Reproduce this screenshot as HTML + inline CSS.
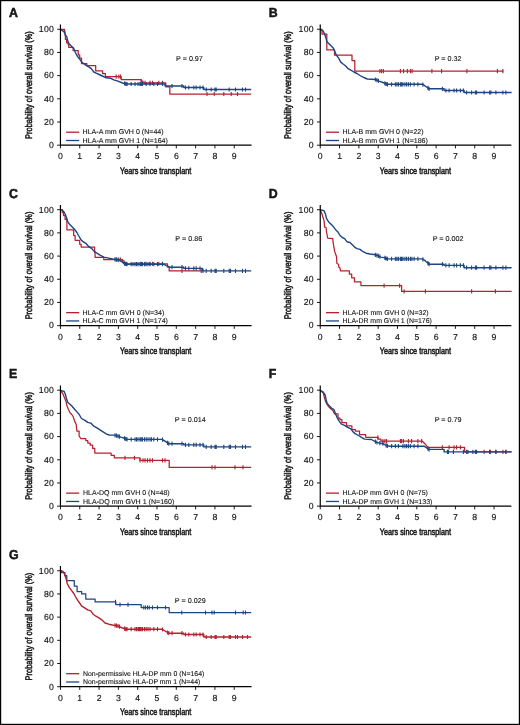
<!DOCTYPE html>
<html lang="en">
<head>
<meta charset="utf-8">
<title>Overall survival by HLA mismatch</title>
<style>
html,body{margin:0;padding:0;background:#fff;}
body{width:520px;height:725px;overflow:hidden;}
svg{display:block;}
text{font-family:"Liberation Sans",sans-serif;fill:#151515;stroke:#151515;stroke-width:0.15px;text-rendering:geometricPrecision;}
text.pl{stroke-width:0.5px;}
text.ti{stroke-width:0.5px;}
text.lg{stroke-width:0.12px;}
</style>
</head>
<body>
<svg width="520" height="725" viewBox="0 0 520 725" role="img" aria-label="Kaplan-Meier overall survival curves by HLA mismatch, panels A to G">
<rect x="0" y="0" width="520" height="725" fill="#fff"/>
<rect x="0.6" y="0.6" width="518.8" height="723.8" fill="none" stroke="#000" stroke-width="1.2"/>
<defs><filter id="soft" x="0" y="0" width="520" height="725" filterUnits="userSpaceOnUse"><feGaussianBlur stdDeviation="0.38"/></filter></defs>
<g filter="url(#soft)">
<g class="panel" id="panel-A">
<path d="M60.9 29.4L64.6 29.4L64.6 31.7L65.1 31.7L65.1 35.5L65.4 35.5L65.4 39.4L66.6 39.4L66.6 42.8L68.2 42.8L68.2 44.8L68.8 44.8L68.8 47.4L73.1 47.4L73.1 50.5L78.2 50.5L78.2 54.8L79.7 54.8L79.7 58.1L81.5 58.1L81.5 63.5L86.9 63.5L86.9 65.5L95.7 65.5L95.7 70.9L102.6 70.9L102.6 73.5L105.4 73.5L105.4 76.6L121.2 76.6L121.2 79.5L141.2 79.5L141.2 81.2L143.0 81.2L143.0 82.8L165.8 82.8L165.8 86.8L169.8 86.8L169.8 94.0L251.2 94.0L251.2 94.0" fill="none" stroke="#b5202f" stroke-width="1.25" stroke-linejoin="round"/>
<path d="M116.2 74.5v4.2M118.8 74.5v4.2M120.5 74.5v4.2M141.2 79.2v4.2M145.0 80.7v4.2M150.0 80.7v4.2M152.5 80.7v4.2M158.8 80.7v4.2M162.5 80.7v4.2M207.0 91.9v4.2M214.2 91.9v4.2M223.8 91.9v4.2M231.2 91.9v4.2M237.5 91.9v4.2" fill="none" stroke="#b5202f" stroke-width="1.1"/>
<path d="M60.5 29.4L63.9 31.7L65.4 34.8L66.9 37.1L67.7 40.9L69.2 44.0L71.5 46.3L73.8 48.6L75.4 52.5L76.9 55.5L79.2 58.6L81.5 61.7L83.8 63.7L86.9 65.8L89.2 67.1L91.5 68.9L93.8 72.0L96.2 73.2L99.2 74.5L102.3 76.0L106.2 77.8L110.8 78.3L113.8 79.8L118.0 81.2L122.5 83.0L126.2 84.0L126.2 84.0L126.2 84.0L165.0 84.0L165.0 86.0L183.8 86.0L183.8 87.5L203.8 87.5L203.8 89.5L251.2 89.5L251.2 89.5" fill="none" stroke="#1d4583" stroke-width="1.4" stroke-linejoin="round"/>
<path d="M124.5 81.4v4.2M125.8 81.8v4.2M127.0 81.9v4.2M131.2 81.9v4.2M135.0 81.9v4.2M138.0 81.9v4.2M140.0 81.9v4.2M141.2 81.9v4.2M142.5 81.9v4.2M146.2 81.9v4.2M150.0 81.9v4.2M153.8 81.9v4.2M157.5 81.9v4.2M162.5 81.9v4.2M172.0 83.9v4.2M182.0 83.9v4.2M185.5 85.4v4.2M188.8 85.4v4.2M193.8 85.4v4.2M196.2 85.4v4.2M200.0 85.4v4.2M203.0 85.4v4.2M206.2 87.4v4.2M211.2 87.4v4.2M215.0 87.4v4.2M216.2 87.4v4.2M229.2 87.4v4.2M235.5 87.4v4.2M242.5 87.4v4.2M245.5 87.4v4.2" fill="none" stroke="#1d4583" stroke-width="1.1"/>
<path d="M60.45 24.45V145.20H251.55" fill="none" stroke="#000" stroke-width="1.2" stroke-linecap="butt" stroke-linejoin="miter"/>
<path d="M57.15 145.20H60.45M57.15 122.01H60.45M57.15 98.82H60.45M57.15 75.63H60.45M57.15 52.44H60.45M57.15 29.25H60.45M60.45 145.20V148.40M79.76 145.20V148.40M99.07 145.20V148.40M118.38 145.20V148.40M137.69 145.20V148.40M157.00 145.20V148.40M176.31 145.20V148.40M195.62 145.20V148.40M214.93 145.20V148.40M234.24 145.20V148.40" fill="none" stroke="#000" stroke-width="0.9" stroke-linecap="butt"/>
<text transform="translate(54.15 148.00) scale(1.0 1)" font-size="8.7" letter-spacing="0.3" text-anchor="end" font-weight="normal">0</text>
<text transform="translate(54.15 124.81) scale(1.0 1)" font-size="8.7" letter-spacing="0.3" text-anchor="end" font-weight="normal">20</text>
<text transform="translate(54.15 101.62) scale(1.0 1)" font-size="8.7" letter-spacing="0.3" text-anchor="end" font-weight="normal">40</text>
<text transform="translate(54.15 78.43) scale(1.0 1)" font-size="8.7" letter-spacing="0.3" text-anchor="end" font-weight="normal">60</text>
<text transform="translate(54.15 55.24) scale(1.0 1)" font-size="8.7" letter-spacing="0.3" text-anchor="end" font-weight="normal">80</text>
<text transform="translate(54.15 32.05) scale(1.0 1)" font-size="8.7" letter-spacing="0.3" text-anchor="end" font-weight="normal">100</text>
<text transform="translate(60.45 159.35) scale(1.0 1)" font-size="8.7" text-anchor="middle" font-weight="normal">0</text>
<text transform="translate(79.76 159.35) scale(1.0 1)" font-size="8.7" text-anchor="middle" font-weight="normal">1</text>
<text transform="translate(99.07 159.35) scale(1.0 1)" font-size="8.7" text-anchor="middle" font-weight="normal">2</text>
<text transform="translate(118.38 159.35) scale(1.0 1)" font-size="8.7" text-anchor="middle" font-weight="normal">3</text>
<text transform="translate(137.69 159.35) scale(1.0 1)" font-size="8.7" text-anchor="middle" font-weight="normal">4</text>
<text transform="translate(157.00 159.35) scale(1.0 1)" font-size="8.7" text-anchor="middle" font-weight="normal">5</text>
<text transform="translate(176.31 159.35) scale(1.0 1)" font-size="8.7" text-anchor="middle" font-weight="normal">6</text>
<text transform="translate(195.62 159.35) scale(1.0 1)" font-size="8.7" text-anchor="middle" font-weight="normal">7</text>
<text transform="translate(214.93 159.35) scale(1.0 1)" font-size="8.7" text-anchor="middle" font-weight="normal">8</text>
<text transform="translate(234.24 159.35) scale(1.0 1)" font-size="8.7" text-anchor="middle" font-weight="normal">9</text>
<text transform="translate(155.65 173.90) scale(0.765 1)" font-size="9.5" class="ti" text-anchor="middle" font-weight="normal">Years since transplant</text>
<text transform="translate(31.65 85.05) rotate(-90) scale(0.774 1)" font-size="9.6" class="ti" text-anchor="middle" font-weight="normal">Probability of overall survival (%)</text>
<text class="pl" transform="translate(9.05 17.45) scale(0.95 1)" font-size="13" text-anchor="start" font-weight="bold">A</text>
<path d="M66.15 132.20h13.1" stroke="#b5202f" stroke-width="1.3"/>
<path d="M66.15 140.50h13.1" stroke="#1d4583" stroke-width="1.3"/>
<text class="lg" x="82.60" y="134.35" font-size="7" textLength="81.0" lengthAdjust="spacingAndGlyphs">HLA-A mm GVH 0 (N=44)</text>
<text class="lg" x="82.60" y="142.60" font-size="7" textLength="85.3" lengthAdjust="spacingAndGlyphs">HLA-A mm GVH 1 (N=164)</text>
<text transform="translate(176.05 60.75) scale(1.025 1)" font-size="7" class="lg" text-anchor="start" font-weight="normal">P = 0.97</text>
</g>
<g class="panel" id="panel-B">
<path d="M320.1 29.4L322.0 29.4L322.0 34.0L326.8 34.0L326.8 49.9L334.5 49.9L334.5 55.2L352.0 55.2L352.0 60.6L354.8 60.6L354.8 71.2L503.4 71.2L503.4 71.2" fill="none" stroke="#b5202f" stroke-width="1.25" stroke-linejoin="round"/>
<path d="M379.9 69.1v4.2M381.6 69.1v4.2M383.4 69.1v4.2M400.4 69.1v4.2M403.6 69.1v4.2M407.4 69.1v4.2M410.4 69.1v4.2M412.1 69.1v4.2M431.9 69.1v4.2M441.6 69.1v4.2M466.9 69.1v4.2M497.4 69.1v4.2M502.9 69.1v4.2" fill="none" stroke="#b5202f" stroke-width="1.1"/>
<path d="M320.1 29.4L323.1 30.9L324.6 34.0L326.1 38.6L326.9 41.7L329.2 44.0L331.5 46.3L333.4 48.3L334.6 50.9L336.1 54.8L338.5 57.9L340.8 62.1L343.1 64.0L345.4 65.8L347.7 68.3L350.8 70.2L353.9 72.0L356.9 73.5L360.0 75.5L363.1 77.1L366.1 78.5L367.4 79.0L375.4 79.5L379.1 81.2L382.9 82.5L386.6 84.2L386.6 84.2L386.6 84.2L422.4 84.2L422.4 84.2L425.4 86.2L429.1 88.8L429.1 88.8L429.1 88.8L444.1 88.8L444.1 90.5L464.1 90.5L464.1 92.5L511.6 92.5L511.6 92.5" fill="none" stroke="#1d4583" stroke-width="1.4" stroke-linejoin="round"/>
<path d="M375.4 77.4v4.2M376.9 78.1v4.2M378.4 78.8v4.2M384.9 81.3v4.2M386.1 81.9v4.2M387.4 82.2v4.2M391.6 82.2v4.2M395.4 82.2v4.2M396.9 82.2v4.2M398.4 82.2v4.2M400.4 82.2v4.2M401.6 82.2v4.2M402.9 82.2v4.2M404.9 82.2v4.2M406.6 82.2v4.2M408.4 82.2v4.2M410.4 82.2v4.2M414.1 82.2v4.2M417.9 82.2v4.2M422.9 82.5v4.2M427.9 85.8v4.2M429.1 86.7v4.2M442.4 86.7v4.2M445.9 88.4v4.2M449.1 88.4v4.2M454.1 88.4v4.2M456.6 88.4v4.2M460.4 88.4v4.2M463.4 88.4v4.2M466.6 90.4v4.2M471.6 90.4v4.2M475.4 90.4v4.2M476.6 90.4v4.2M484.1 90.4v4.2M489.6 90.4v4.2M490.9 90.4v4.2M495.9 90.4v4.2M502.9 90.4v4.2M505.9 90.4v4.2" fill="none" stroke="#1d4583" stroke-width="1.1"/>
<path d="M320.25 24.45V145.20H511.35" fill="none" stroke="#000" stroke-width="1.2" stroke-linecap="butt" stroke-linejoin="miter"/>
<path d="M316.95 145.20H320.25M316.95 122.01H320.25M316.95 98.82H320.25M316.95 75.63H320.25M316.95 52.44H320.25M316.95 29.25H320.25M320.25 145.20V148.40M339.56 145.20V148.40M358.87 145.20V148.40M378.18 145.20V148.40M397.49 145.20V148.40M416.80 145.20V148.40M436.11 145.20V148.40M455.42 145.20V148.40M474.73 145.20V148.40M494.04 145.20V148.40" fill="none" stroke="#000" stroke-width="0.9" stroke-linecap="butt"/>
<text transform="translate(313.95 148.00) scale(1.0 1)" font-size="8.7" letter-spacing="0.3" text-anchor="end" font-weight="normal">0</text>
<text transform="translate(313.95 124.81) scale(1.0 1)" font-size="8.7" letter-spacing="0.3" text-anchor="end" font-weight="normal">20</text>
<text transform="translate(313.95 101.62) scale(1.0 1)" font-size="8.7" letter-spacing="0.3" text-anchor="end" font-weight="normal">40</text>
<text transform="translate(313.95 78.43) scale(1.0 1)" font-size="8.7" letter-spacing="0.3" text-anchor="end" font-weight="normal">60</text>
<text transform="translate(313.95 55.24) scale(1.0 1)" font-size="8.7" letter-spacing="0.3" text-anchor="end" font-weight="normal">80</text>
<text transform="translate(313.95 32.05) scale(1.0 1)" font-size="8.7" letter-spacing="0.3" text-anchor="end" font-weight="normal">100</text>
<text transform="translate(320.25 159.35) scale(1.0 1)" font-size="8.7" text-anchor="middle" font-weight="normal">0</text>
<text transform="translate(339.56 159.35) scale(1.0 1)" font-size="8.7" text-anchor="middle" font-weight="normal">1</text>
<text transform="translate(358.87 159.35) scale(1.0 1)" font-size="8.7" text-anchor="middle" font-weight="normal">2</text>
<text transform="translate(378.18 159.35) scale(1.0 1)" font-size="8.7" text-anchor="middle" font-weight="normal">3</text>
<text transform="translate(397.49 159.35) scale(1.0 1)" font-size="8.7" text-anchor="middle" font-weight="normal">4</text>
<text transform="translate(416.80 159.35) scale(1.0 1)" font-size="8.7" text-anchor="middle" font-weight="normal">5</text>
<text transform="translate(436.11 159.35) scale(1.0 1)" font-size="8.7" text-anchor="middle" font-weight="normal">6</text>
<text transform="translate(455.42 159.35) scale(1.0 1)" font-size="8.7" text-anchor="middle" font-weight="normal">7</text>
<text transform="translate(474.73 159.35) scale(1.0 1)" font-size="8.7" text-anchor="middle" font-weight="normal">8</text>
<text transform="translate(494.04 159.35) scale(1.0 1)" font-size="8.7" text-anchor="middle" font-weight="normal">9</text>
<text transform="translate(415.45 173.90) scale(0.765 1)" font-size="9.5" class="ti" text-anchor="middle" font-weight="normal">Years since transplant</text>
<text transform="translate(291.45 85.05) rotate(-90) scale(0.774 1)" font-size="9.6" class="ti" text-anchor="middle" font-weight="normal">Probability of overall survival (%)</text>
<text class="pl" transform="translate(268.85 17.45) scale(0.95 1)" font-size="13" text-anchor="start" font-weight="bold">B</text>
<path d="M325.95 132.20h13.1" stroke="#b5202f" stroke-width="1.3"/>
<path d="M325.95 140.50h13.1" stroke="#1d4583" stroke-width="1.3"/>
<text class="lg" x="342.60" y="134.35" font-size="7" textLength="81.0" lengthAdjust="spacingAndGlyphs">HLA-B mm GVH 0 (N=22)</text>
<text class="lg" x="342.60" y="142.60" font-size="7" textLength="85.3" lengthAdjust="spacingAndGlyphs">HLA-B mm GVH 1 (N=186)</text>
<text transform="translate(434.65 60.75) scale(1.025 1)" font-size="7" class="lg" text-anchor="start" font-weight="normal">P = 0.32</text>
</g>
<g class="panel" id="panel-C">
<path d="M60.5 209.7L62.3 209.7L62.3 212.5L63.5 212.5L63.5 215.5L65.1 215.5L65.1 219.4L66.9 219.4L66.9 229.8L73.7 229.8L73.7 235.5L75.1 235.5L75.1 240.3L79.7 240.3L79.7 244.3L81.2 244.3L81.2 247.1L94.6 247.1L94.6 252.5L95.1 252.5L95.1 257.4L103.8 257.4L103.8 259.7L122.5 259.7L122.5 262.2L125.0 262.2L125.0 263.9L167.5 263.9L167.5 267.2L169.2 267.2L169.2 270.9L202.5 270.9L202.5 270.9" fill="none" stroke="#b5202f" stroke-width="1.25" stroke-linejoin="round"/>
<path d="M116.2 257.6v4.2M118.8 257.6v4.2M120.5 257.6v4.2M123.8 260.1v4.2M126.2 261.8v4.2M141.2 261.8v4.2M145.0 261.8v4.2M150.0 261.8v4.2M152.5 261.8v4.2M158.8 261.8v4.2M162.5 261.8v4.2M182.0 268.8v4.2M201.2 268.8v4.2" fill="none" stroke="#b5202f" stroke-width="1.1"/>
<path d="M60.5 209.7L63.5 211.2L65.1 214.0L66.6 217.8L67.7 221.7L70.0 224.8L72.3 227.1L74.6 229.4L76.9 232.5L78.5 235.5L80.8 239.4L83.1 241.7L86.2 243.7L88.5 246.3L91.5 248.3L93.8 250.9L96.9 253.2L100.0 255.1L103.8 257.1L108.5 258.1L112.5 258.9L117.5 259.7L121.2 260.9L123.8 263.4L126.2 264.2L126.2 264.2L126.2 264.2L163.8 264.2L163.8 264.2L166.2 265.7L170.0 267.2L170.0 267.2L170.0 267.2L183.8 267.2L183.8 268.4L202.5 268.4L202.5 270.9L251.2 270.9L251.2 270.9" fill="none" stroke="#1d4583" stroke-width="1.4" stroke-linejoin="round"/>
<path d="M115.0 257.2v4.2M116.5 257.4v4.2M118.0 257.8v4.2M124.5 261.6v4.2M125.8 261.9v4.2M127.0 262.1v4.2M131.2 262.1v4.2M133.0 262.1v4.2M135.0 262.1v4.2M136.5 262.1v4.2M138.0 262.1v4.2M140.0 262.1v4.2M141.2 262.1v4.2M142.5 262.1v4.2M144.5 262.1v4.2M146.2 262.1v4.2M148.0 262.1v4.2M150.0 262.1v4.2M153.8 262.1v4.2M157.5 262.1v4.2M162.5 262.1v4.2M172.0 265.1v4.2M182.0 265.1v4.2M185.5 266.3v4.2M188.8 266.3v4.2M193.8 266.3v4.2M196.2 266.3v4.2M200.0 266.3v4.2M203.0 268.8v4.2M206.2 268.8v4.2M211.2 268.8v4.2M215.0 268.8v4.2M216.2 268.8v4.2M223.8 268.8v4.2M229.2 268.8v4.2M230.5 268.8v4.2M235.5 268.8v4.2M242.5 268.8v4.2M245.5 268.8v4.2" fill="none" stroke="#1d4583" stroke-width="1.1"/>
<path d="M60.45 204.90V325.65H251.55" fill="none" stroke="#000" stroke-width="1.2" stroke-linecap="butt" stroke-linejoin="miter"/>
<path d="M57.15 325.65H60.45M57.15 302.46H60.45M57.15 279.27H60.45M57.15 256.08H60.45M57.15 232.89H60.45M57.15 209.70H60.45M60.45 325.65V328.85M79.76 325.65V328.85M99.07 325.65V328.85M118.38 325.65V328.85M137.69 325.65V328.85M157.00 325.65V328.85M176.31 325.65V328.85M195.62 325.65V328.85M214.93 325.65V328.85M234.24 325.65V328.85" fill="none" stroke="#000" stroke-width="0.9" stroke-linecap="butt"/>
<text transform="translate(54.15 328.45) scale(1.0 1)" font-size="8.7" letter-spacing="0.3" text-anchor="end" font-weight="normal">0</text>
<text transform="translate(54.15 305.26) scale(1.0 1)" font-size="8.7" letter-spacing="0.3" text-anchor="end" font-weight="normal">20</text>
<text transform="translate(54.15 282.07) scale(1.0 1)" font-size="8.7" letter-spacing="0.3" text-anchor="end" font-weight="normal">40</text>
<text transform="translate(54.15 258.88) scale(1.0 1)" font-size="8.7" letter-spacing="0.3" text-anchor="end" font-weight="normal">60</text>
<text transform="translate(54.15 235.69) scale(1.0 1)" font-size="8.7" letter-spacing="0.3" text-anchor="end" font-weight="normal">80</text>
<text transform="translate(54.15 212.50) scale(1.0 1)" font-size="8.7" letter-spacing="0.3" text-anchor="end" font-weight="normal">100</text>
<text transform="translate(60.45 339.80) scale(1.0 1)" font-size="8.7" text-anchor="middle" font-weight="normal">0</text>
<text transform="translate(79.76 339.80) scale(1.0 1)" font-size="8.7" text-anchor="middle" font-weight="normal">1</text>
<text transform="translate(99.07 339.80) scale(1.0 1)" font-size="8.7" text-anchor="middle" font-weight="normal">2</text>
<text transform="translate(118.38 339.80) scale(1.0 1)" font-size="8.7" text-anchor="middle" font-weight="normal">3</text>
<text transform="translate(137.69 339.80) scale(1.0 1)" font-size="8.7" text-anchor="middle" font-weight="normal">4</text>
<text transform="translate(157.00 339.80) scale(1.0 1)" font-size="8.7" text-anchor="middle" font-weight="normal">5</text>
<text transform="translate(176.31 339.80) scale(1.0 1)" font-size="8.7" text-anchor="middle" font-weight="normal">6</text>
<text transform="translate(195.62 339.80) scale(1.0 1)" font-size="8.7" text-anchor="middle" font-weight="normal">7</text>
<text transform="translate(214.93 339.80) scale(1.0 1)" font-size="8.7" text-anchor="middle" font-weight="normal">8</text>
<text transform="translate(234.24 339.80) scale(1.0 1)" font-size="8.7" text-anchor="middle" font-weight="normal">9</text>
<text transform="translate(155.65 354.35) scale(0.765 1)" font-size="9.5" class="ti" text-anchor="middle" font-weight="normal">Years since transplant</text>
<text transform="translate(31.65 265.50) rotate(-90) scale(0.774 1)" font-size="9.6" class="ti" text-anchor="middle" font-weight="normal">Probability of overall survival (%)</text>
<text class="pl" transform="translate(9.05 197.90) scale(0.95 1)" font-size="13" text-anchor="start" font-weight="bold">C</text>
<path d="M66.15 312.65h13.1" stroke="#b5202f" stroke-width="1.3"/>
<path d="M66.15 320.95h13.1" stroke="#1d4583" stroke-width="1.3"/>
<text class="lg" x="82.60" y="314.80" font-size="7" textLength="81.7" lengthAdjust="spacingAndGlyphs">HLA-C mm GVH 0 (N=34)</text>
<text class="lg" x="82.60" y="323.05" font-size="7" textLength="85.3" lengthAdjust="spacingAndGlyphs">HLA-C mm GVH 1 (N=174)</text>
<text transform="translate(175.35 241.40) scale(1.025 1)" font-size="7" class="lg" text-anchor="start" font-weight="normal">P = 0.86</text>
</g>
<g class="panel" id="panel-D">
<path d="M320.1 209.7L321.5 212.5L323.1 217.8L324.1 220.9L324.6 227.1L326.1 227.5L326.6 232.5L327.7 238.2L332.8 238.6L333.1 242.7L334.6 251.2L336.5 256.5L336.9 263.5L338.5 264.2L338.9 267.3L340.0 268.1L340.5 270.9L349.4 270.9L349.4 274.2L351.7 274.2L351.7 277.8L354.5 277.8L354.5 281.9L360.9 281.9L360.9 285.6L401.6 285.6L401.6 291.4L511.6 291.4L511.6 291.4" fill="none" stroke="#b5202f" stroke-width="1.25" stroke-linejoin="round"/>
<path d="M384.1 283.5v4.2M399.6 283.5v4.2M404.1 289.3v4.2M425.4 289.3v4.2M471.6 289.3v4.2M495.4 289.3v4.2" fill="none" stroke="#b5202f" stroke-width="1.1"/>
<path d="M320.1 209.7L323.9 210.6L325.4 214.0L326.6 218.6L328.5 221.7L330.8 224.0L333.1 226.3L335.4 229.4L337.7 231.7L340.0 235.5L342.3 237.5L344.6 238.6L346.9 241.7L350.0 242.5L352.3 244.8L354.6 247.1L356.9 248.6L360.0 249.4L363.1 251.7L366.1 253.2L370.0 254.0L373.9 254.5L377.7 255.5L380.8 257.1L385.4 257.9L386.6 258.9L386.6 258.9L386.6 258.9L422.4 258.9L422.4 258.9L425.4 260.9L429.1 264.2L429.1 264.2L429.1 264.2L444.1 264.2L444.1 265.4L464.1 265.4L464.1 267.7L511.6 267.7L511.6 267.7" fill="none" stroke="#1d4583" stroke-width="1.4" stroke-linejoin="round"/>
<path d="M375.4 252.8v4.2M376.9 253.2v4.2M378.4 253.8v4.2M379.9 254.5v4.2M384.9 255.7v4.2M386.1 256.4v4.2M387.4 256.8v4.2M391.6 256.8v4.2M395.4 256.8v4.2M396.9 256.8v4.2M398.4 256.8v4.2M400.4 256.8v4.2M401.6 256.8v4.2M402.9 256.8v4.2M404.9 256.8v4.2M406.6 256.8v4.2M408.4 256.8v4.2M410.4 256.8v4.2M411.9 256.8v4.2M414.1 256.8v4.2M417.9 256.8v4.2M422.9 257.2v4.2M427.9 261.0v4.2M429.1 262.1v4.2M442.4 262.1v4.2M445.9 263.3v4.2M449.1 263.3v4.2M454.1 263.3v4.2M456.6 263.3v4.2M460.4 263.3v4.2M463.4 263.3v4.2M466.6 265.6v4.2M471.6 265.6v4.2M475.4 265.6v4.2M476.6 265.6v4.2M484.1 265.6v4.2M489.6 265.6v4.2M490.9 265.6v4.2M495.9 265.6v4.2M502.9 265.6v4.2M505.9 265.6v4.2" fill="none" stroke="#1d4583" stroke-width="1.1"/>
<path d="M320.25 204.90V325.65H511.35" fill="none" stroke="#000" stroke-width="1.2" stroke-linecap="butt" stroke-linejoin="miter"/>
<path d="M316.95 325.65H320.25M316.95 302.46H320.25M316.95 279.27H320.25M316.95 256.08H320.25M316.95 232.89H320.25M316.95 209.70H320.25M320.25 325.65V328.85M339.56 325.65V328.85M358.87 325.65V328.85M378.18 325.65V328.85M397.49 325.65V328.85M416.80 325.65V328.85M436.11 325.65V328.85M455.42 325.65V328.85M474.73 325.65V328.85M494.04 325.65V328.85" fill="none" stroke="#000" stroke-width="0.9" stroke-linecap="butt"/>
<text transform="translate(313.95 328.45) scale(1.0 1)" font-size="8.7" letter-spacing="0.3" text-anchor="end" font-weight="normal">0</text>
<text transform="translate(313.95 305.26) scale(1.0 1)" font-size="8.7" letter-spacing="0.3" text-anchor="end" font-weight="normal">20</text>
<text transform="translate(313.95 282.07) scale(1.0 1)" font-size="8.7" letter-spacing="0.3" text-anchor="end" font-weight="normal">40</text>
<text transform="translate(313.95 258.88) scale(1.0 1)" font-size="8.7" letter-spacing="0.3" text-anchor="end" font-weight="normal">60</text>
<text transform="translate(313.95 235.69) scale(1.0 1)" font-size="8.7" letter-spacing="0.3" text-anchor="end" font-weight="normal">80</text>
<text transform="translate(313.95 212.50) scale(1.0 1)" font-size="8.7" letter-spacing="0.3" text-anchor="end" font-weight="normal">100</text>
<text transform="translate(320.25 339.80) scale(1.0 1)" font-size="8.7" text-anchor="middle" font-weight="normal">0</text>
<text transform="translate(339.56 339.80) scale(1.0 1)" font-size="8.7" text-anchor="middle" font-weight="normal">1</text>
<text transform="translate(358.87 339.80) scale(1.0 1)" font-size="8.7" text-anchor="middle" font-weight="normal">2</text>
<text transform="translate(378.18 339.80) scale(1.0 1)" font-size="8.7" text-anchor="middle" font-weight="normal">3</text>
<text transform="translate(397.49 339.80) scale(1.0 1)" font-size="8.7" text-anchor="middle" font-weight="normal">4</text>
<text transform="translate(416.80 339.80) scale(1.0 1)" font-size="8.7" text-anchor="middle" font-weight="normal">5</text>
<text transform="translate(436.11 339.80) scale(1.0 1)" font-size="8.7" text-anchor="middle" font-weight="normal">6</text>
<text transform="translate(455.42 339.80) scale(1.0 1)" font-size="8.7" text-anchor="middle" font-weight="normal">7</text>
<text transform="translate(474.73 339.80) scale(1.0 1)" font-size="8.7" text-anchor="middle" font-weight="normal">8</text>
<text transform="translate(494.04 339.80) scale(1.0 1)" font-size="8.7" text-anchor="middle" font-weight="normal">9</text>
<text transform="translate(415.45 354.35) scale(0.765 1)" font-size="9.5" class="ti" text-anchor="middle" font-weight="normal">Years since transplant</text>
<text transform="translate(291.45 265.50) rotate(-90) scale(0.774 1)" font-size="9.6" class="ti" text-anchor="middle" font-weight="normal">Probability of overall survival (%)</text>
<text class="pl" transform="translate(268.85 197.90) scale(0.95 1)" font-size="13" text-anchor="start" font-weight="bold">D</text>
<path d="M325.95 312.65h13.1" stroke="#b5202f" stroke-width="1.3"/>
<path d="M325.95 320.95h13.1" stroke="#1d4583" stroke-width="1.3"/>
<text class="lg" x="342.60" y="314.80" font-size="7" textLength="86.0" lengthAdjust="spacingAndGlyphs">HLA-DR mm GVH 0 (N=32)</text>
<text class="lg" x="342.60" y="323.05" font-size="7" textLength="89.3" lengthAdjust="spacingAndGlyphs">HLA-DR mm GVH 1 (N=176)</text>
<text transform="translate(432.65 241.40) scale(1.025 1)" font-size="7" class="lg" text-anchor="start" font-weight="normal">P = 0.002</text>
</g>
<g class="panel" id="panel-E">
<path d="M60.5 390.4L63.1 394.2L64.6 398.1L66.2 401.9L66.9 405.8L68.5 409.6L70.0 412.7L71.5 414.2L73.1 416.5L74.6 421.1L76.2 424.2L76.9 431.1L76.9 431.1L76.9 431.1L79.1 431.1L79.1 435.8L80.8 438.5L85.8 438.5L85.8 440.7L87.8 440.7L87.8 443.1L90.2 443.1L90.2 445.0L92.6 445.0L92.6 448.4L94.8 448.4L94.8 453.0L111.1 453.0L111.1 455.3L114.3 455.3L114.3 457.8L140.0 457.8L140.0 460.4L169.2 460.4L169.2 467.4L251.2 467.4L251.2 467.4" fill="none" stroke="#b5202f" stroke-width="1.25" stroke-linejoin="round"/>
<path d="M125.0 455.7v4.2M134.5 455.7v4.2M140.0 458.3v4.2M143.0 458.3v4.2M145.0 458.3v4.2M147.5 458.3v4.2M150.0 458.3v4.2M152.5 458.3v4.2M162.5 458.3v4.2M165.0 458.3v4.2M212.0 465.3v4.2M215.0 465.3v4.2M235.0 465.3v4.2M243.0 465.3v4.2" fill="none" stroke="#b5202f" stroke-width="1.1"/>
<path d="M60.5 390.4L64.2 391.5L65.4 394.5L66.6 399.1L67.7 402.2L70.0 404.2L72.3 406.5L74.6 409.3L76.9 411.9L79.2 414.5L81.5 418.5L84.6 420.1L87.7 422.4L90.8 423.1L93.8 426.2L96.9 427.8L100.0 429.9L103.1 431.9L106.2 433.9L109.2 435.0L114.6 435.1L117.7 436.1L121.5 437.3L125.4 438.5L126.2 439.4L126.2 439.4L126.2 439.4L162.0 439.4L162.0 439.4L165.0 441.2L168.8 443.7L168.8 443.7L168.8 443.7L183.8 443.7L183.8 444.9L203.8 444.9L203.8 446.9L251.2 446.9L251.2 446.9" fill="none" stroke="#1d4583" stroke-width="1.4" stroke-linejoin="round"/>
<path d="M115.0 433.2v4.2M116.5 433.6v4.2M118.0 434.1v4.2M119.5 434.6v4.2M124.5 436.2v4.2M125.8 436.8v4.2M127.0 437.3v4.2M131.2 437.3v4.2M135.0 437.3v4.2M136.5 437.3v4.2M138.0 437.3v4.2M140.0 437.3v4.2M141.2 437.3v4.2M142.5 437.3v4.2M144.5 437.3v4.2M146.2 437.3v4.2M148.0 437.3v4.2M150.0 437.3v4.2M151.5 437.3v4.2M153.8 437.3v4.2M157.5 437.3v4.2M162.5 437.6v4.2M167.5 440.8v4.2M168.8 441.6v4.2M172.0 441.6v4.2M182.0 441.6v4.2M185.5 442.8v4.2M188.8 442.8v4.2M193.8 442.8v4.2M196.2 442.8v4.2M200.0 442.8v4.2M203.0 442.8v4.2M206.2 444.8v4.2M211.2 444.8v4.2M215.0 444.8v4.2M216.2 444.8v4.2M223.8 444.8v4.2M229.2 444.8v4.2M230.5 444.8v4.2M235.5 444.8v4.2M242.5 444.8v4.2M245.5 444.8v4.2" fill="none" stroke="#1d4583" stroke-width="1.1"/>
<path d="M60.45 385.40V506.15H251.55" fill="none" stroke="#000" stroke-width="1.2" stroke-linecap="butt" stroke-linejoin="miter"/>
<path d="M57.15 506.15H60.45M57.15 482.96H60.45M57.15 459.77H60.45M57.15 436.58H60.45M57.15 413.39H60.45M57.15 390.20H60.45M60.45 506.15V509.35M79.76 506.15V509.35M99.07 506.15V509.35M118.38 506.15V509.35M137.69 506.15V509.35M157.00 506.15V509.35M176.31 506.15V509.35M195.62 506.15V509.35M214.93 506.15V509.35M234.24 506.15V509.35" fill="none" stroke="#000" stroke-width="0.9" stroke-linecap="butt"/>
<text transform="translate(54.15 508.95) scale(1.0 1)" font-size="8.7" letter-spacing="0.3" text-anchor="end" font-weight="normal">0</text>
<text transform="translate(54.15 485.76) scale(1.0 1)" font-size="8.7" letter-spacing="0.3" text-anchor="end" font-weight="normal">20</text>
<text transform="translate(54.15 462.57) scale(1.0 1)" font-size="8.7" letter-spacing="0.3" text-anchor="end" font-weight="normal">40</text>
<text transform="translate(54.15 439.38) scale(1.0 1)" font-size="8.7" letter-spacing="0.3" text-anchor="end" font-weight="normal">60</text>
<text transform="translate(54.15 416.19) scale(1.0 1)" font-size="8.7" letter-spacing="0.3" text-anchor="end" font-weight="normal">80</text>
<text transform="translate(54.15 393.00) scale(1.0 1)" font-size="8.7" letter-spacing="0.3" text-anchor="end" font-weight="normal">100</text>
<text transform="translate(60.45 520.30) scale(1.0 1)" font-size="8.7" text-anchor="middle" font-weight="normal">0</text>
<text transform="translate(79.76 520.30) scale(1.0 1)" font-size="8.7" text-anchor="middle" font-weight="normal">1</text>
<text transform="translate(99.07 520.30) scale(1.0 1)" font-size="8.7" text-anchor="middle" font-weight="normal">2</text>
<text transform="translate(118.38 520.30) scale(1.0 1)" font-size="8.7" text-anchor="middle" font-weight="normal">3</text>
<text transform="translate(137.69 520.30) scale(1.0 1)" font-size="8.7" text-anchor="middle" font-weight="normal">4</text>
<text transform="translate(157.00 520.30) scale(1.0 1)" font-size="8.7" text-anchor="middle" font-weight="normal">5</text>
<text transform="translate(176.31 520.30) scale(1.0 1)" font-size="8.7" text-anchor="middle" font-weight="normal">6</text>
<text transform="translate(195.62 520.30) scale(1.0 1)" font-size="8.7" text-anchor="middle" font-weight="normal">7</text>
<text transform="translate(214.93 520.30) scale(1.0 1)" font-size="8.7" text-anchor="middle" font-weight="normal">8</text>
<text transform="translate(234.24 520.30) scale(1.0 1)" font-size="8.7" text-anchor="middle" font-weight="normal">9</text>
<text transform="translate(155.65 534.85) scale(0.765 1)" font-size="9.5" class="ti" text-anchor="middle" font-weight="normal">Years since transplant</text>
<text transform="translate(31.65 446.00) rotate(-90) scale(0.774 1)" font-size="9.6" class="ti" text-anchor="middle" font-weight="normal">Probability of overall survival (%)</text>
<text class="pl" transform="translate(9.05 378.40) scale(0.95 1)" font-size="13" text-anchor="start" font-weight="bold">E</text>
<path d="M66.15 493.15h13.1" stroke="#b5202f" stroke-width="1.3"/>
<path d="M66.15 501.45h13.1" stroke="#1d4583" stroke-width="1.3"/>
<text class="lg" x="83.00" y="495.30" font-size="7" textLength="86.7" lengthAdjust="spacingAndGlyphs">HLA-DQ mm GVH 0 (N=48)</text>
<text class="lg" x="83.00" y="503.55" font-size="7" textLength="91.3" lengthAdjust="spacingAndGlyphs">HLA-DQ mm GVH 1 (N=160)</text>
<text transform="translate(174.85 422.10) scale(1.025 1)" font-size="7" class="lg" text-anchor="start" font-weight="normal">P = 0.014</text>
</g>
<g class="panel" id="panel-F">
<path d="M320.1 390.4L323.1 392.7L324.6 398.1L325.4 401.1L326.9 404.2L328.5 406.5L330.8 408.9L333.1 410.9L334.6 413.9L338.0 413.9L338.0 418.1L340.0 418.1L340.0 419.6L341.9 419.6L341.9 422.7L346.5 422.7L346.5 425.8L351.9 425.8L351.9 429.6L355.4 429.6L355.4 431.1L359.5 431.1L359.5 434.5L365.7 434.5L365.7 437.3L378.0 437.3L378.0 439.1L380.9 439.1L380.9 441.2L422.4 441.2L422.4 441.2L424.9 443.7L427.9 447.4L427.9 447.4L427.9 447.4L464.6 447.4L464.6 451.9L511.6 451.9L511.6 451.9" fill="none" stroke="#b5202f" stroke-width="1.25" stroke-linejoin="round"/>
<path d="M377.9 435.2v4.2M382.9 439.1v4.2M384.9 439.1v4.2M386.6 439.1v4.2M400.4 439.1v4.2M401.6 439.1v4.2M403.4 439.1v4.2M408.4 439.1v4.2M411.6 439.1v4.2M417.9 439.1v4.2M421.6 439.1v4.2M442.4 445.3v4.2M449.1 445.3v4.2M454.1 445.3v4.2M456.6 445.3v4.2M460.4 445.3v4.2M484.1 449.8v4.2M490.4 449.8v4.2M495.9 449.8v4.2M502.9 449.8v4.2M505.9 449.8v4.2" fill="none" stroke="#b5202f" stroke-width="1.1"/>
<path d="M320.1 390.4L323.1 391.9L325.1 395.0L326.1 399.6L327.2 403.5L329.2 405.8L331.5 408.1L333.9 409.6L335.4 413.5L337.4 418.1L339.2 421.1L341.5 424.2L344.6 425.3L347.7 427.3L350.8 428.9L353.1 431.9L355.4 433.9L358.5 435.5L361.5 437.3L364.6 439.1L371.5 439.5L376.6 442.4L382.9 443.7L386.6 445.7L390.4 446.2L390.4 446.2L390.4 446.2L424.1 446.2L424.1 446.2L426.6 447.9L429.1 449.4L429.1 449.4L429.1 449.4L444.1 449.4L444.1 451.9L511.6 451.9L511.6 451.9" fill="none" stroke="#1d4583" stroke-width="1.4" stroke-linejoin="round"/>
<path d="M375.4 439.6v4.2M376.9 440.4v4.2M379.9 441.0v4.2M382.9 441.6v4.2M386.1 443.3v4.2M387.4 443.7v4.2M391.6 444.1v4.2M395.4 444.1v4.2M398.4 444.1v4.2M402.9 444.1v4.2M404.9 444.1v4.2M406.6 444.1v4.2M408.4 444.1v4.2M410.4 444.1v4.2M414.1 444.1v4.2M417.9 444.1v4.2M427.9 446.6v4.2M429.1 447.3v4.2M447.4 449.8v4.2M448.4 449.8v4.2M453.4 449.8v4.2M463.4 449.8v4.2M466.6 449.8v4.2M467.9 449.8v4.2M472.9 449.8v4.2M475.4 449.8v4.2M476.6 449.8v4.2M489.6 449.8v4.2M495.9 449.8v4.2M505.9 449.8v4.2" fill="none" stroke="#1d4583" stroke-width="1.1"/>
<path d="M320.25 385.40V506.15H511.35" fill="none" stroke="#000" stroke-width="1.2" stroke-linecap="butt" stroke-linejoin="miter"/>
<path d="M316.95 506.15H320.25M316.95 482.96H320.25M316.95 459.77H320.25M316.95 436.58H320.25M316.95 413.39H320.25M316.95 390.20H320.25M320.25 506.15V509.35M339.56 506.15V509.35M358.87 506.15V509.35M378.18 506.15V509.35M397.49 506.15V509.35M416.80 506.15V509.35M436.11 506.15V509.35M455.42 506.15V509.35M474.73 506.15V509.35M494.04 506.15V509.35" fill="none" stroke="#000" stroke-width="0.9" stroke-linecap="butt"/>
<text transform="translate(313.95 508.95) scale(1.0 1)" font-size="8.7" letter-spacing="0.3" text-anchor="end" font-weight="normal">0</text>
<text transform="translate(313.95 485.76) scale(1.0 1)" font-size="8.7" letter-spacing="0.3" text-anchor="end" font-weight="normal">20</text>
<text transform="translate(313.95 462.57) scale(1.0 1)" font-size="8.7" letter-spacing="0.3" text-anchor="end" font-weight="normal">40</text>
<text transform="translate(313.95 439.38) scale(1.0 1)" font-size="8.7" letter-spacing="0.3" text-anchor="end" font-weight="normal">60</text>
<text transform="translate(313.95 416.19) scale(1.0 1)" font-size="8.7" letter-spacing="0.3" text-anchor="end" font-weight="normal">80</text>
<text transform="translate(313.95 393.00) scale(1.0 1)" font-size="8.7" letter-spacing="0.3" text-anchor="end" font-weight="normal">100</text>
<text transform="translate(320.25 520.30) scale(1.0 1)" font-size="8.7" text-anchor="middle" font-weight="normal">0</text>
<text transform="translate(339.56 520.30) scale(1.0 1)" font-size="8.7" text-anchor="middle" font-weight="normal">1</text>
<text transform="translate(358.87 520.30) scale(1.0 1)" font-size="8.7" text-anchor="middle" font-weight="normal">2</text>
<text transform="translate(378.18 520.30) scale(1.0 1)" font-size="8.7" text-anchor="middle" font-weight="normal">3</text>
<text transform="translate(397.49 520.30) scale(1.0 1)" font-size="8.7" text-anchor="middle" font-weight="normal">4</text>
<text transform="translate(416.80 520.30) scale(1.0 1)" font-size="8.7" text-anchor="middle" font-weight="normal">5</text>
<text transform="translate(436.11 520.30) scale(1.0 1)" font-size="8.7" text-anchor="middle" font-weight="normal">6</text>
<text transform="translate(455.42 520.30) scale(1.0 1)" font-size="8.7" text-anchor="middle" font-weight="normal">7</text>
<text transform="translate(474.73 520.30) scale(1.0 1)" font-size="8.7" text-anchor="middle" font-weight="normal">8</text>
<text transform="translate(494.04 520.30) scale(1.0 1)" font-size="8.7" text-anchor="middle" font-weight="normal">9</text>
<text transform="translate(415.45 534.85) scale(0.765 1)" font-size="9.5" class="ti" text-anchor="middle" font-weight="normal">Years since transplant</text>
<text transform="translate(291.45 446.00) rotate(-90) scale(0.774 1)" font-size="9.6" class="ti" text-anchor="middle" font-weight="normal">Probability of overall survival (%)</text>
<text class="pl" transform="translate(268.85 378.40) scale(0.95 1)" font-size="13" text-anchor="start" font-weight="bold">F</text>
<path d="M325.95 493.15h13.1" stroke="#b5202f" stroke-width="1.3"/>
<path d="M325.95 501.45h13.1" stroke="#1d4583" stroke-width="1.3"/>
<text class="lg" x="342.60" y="495.30" font-size="7" textLength="85.3" lengthAdjust="spacingAndGlyphs">HLA-DP mm GVH 0 (N=75)</text>
<text class="lg" x="342.60" y="503.55" font-size="7" textLength="89.8" lengthAdjust="spacingAndGlyphs">HLA-DP mm GVH 1 (N=133)</text>
<text transform="translate(434.65 422.00) scale(1.025 1)" font-size="7" class="lg" text-anchor="start" font-weight="normal">P = 0.79</text>
</g>
<g class="panel" id="panel-G">
<path d="M60.5 570.7L61.5 570.7L61.5 572.7L64.9 572.7L64.9 575.5L66.8 575.5L66.8 580.7L74.3 580.7L74.3 586.2L77.1 586.2L77.1 591.5L81.7 591.5L81.7 593.9L85.8 593.9L85.8 599.1L95.1 599.1L95.1 601.9L115.8 601.9L115.8 604.7L141.2 604.7L141.2 607.5L169.2 607.5L169.2 612.5L251.2 612.5L251.2 612.5" fill="none" stroke="#1d4583" stroke-width="1.25" stroke-linejoin="round"/>
<path d="M115.5 599.8v4.2M120.0 602.6v4.2M128.0 602.6v4.2M143.8 605.4v4.2M145.5 605.4v4.2M147.5 605.4v4.2M149.2 605.4v4.2M152.5 605.4v4.2M157.5 605.4v4.2M165.5 605.4v4.2M181.8 610.4v4.2M205.5 610.4v4.2M212.0 610.4v4.2M214.2 610.4v4.2M235.5 610.4v4.2M243.2 610.4v4.2M245.5 610.4v4.2" fill="none" stroke="#1d4583" stroke-width="1.1"/>
<path d="M60.5 570.7L63.1 571.5L64.6 574.2L66.2 578.9L67.2 583.5L69.2 587.3L71.5 590.4L73.8 593.5L75.4 596.5L77.7 600.4L80.0 603.5L81.5 605.8L84.6 607.8L87.7 609.9L90.8 610.9L93.1 614.2L95.4 615.8L98.5 617.6L101.5 619.6L105.0 623.0L108.8 624.2L112.5 625.0L117.5 625.8L122.5 628.0L126.2 629.2L126.2 629.2L126.2 629.2L162.0 629.2L162.0 629.2L165.0 631.0L168.8 633.2L168.8 633.2L168.8 633.2L183.8 633.2L183.8 634.5L203.8 634.5L203.8 637.0L251.2 637.0L251.2 637.0" fill="none" stroke="#b5202f" stroke-width="1.4" stroke-linejoin="round"/>
<path d="M115.0 623.3v4.2M116.5 623.5v4.2M118.0 623.9v4.2M119.5 624.5v4.2M124.5 626.6v4.2M125.8 627.0v4.2M127.0 627.1v4.2M131.2 627.1v4.2M135.0 627.1v4.2M136.5 627.1v4.2M138.0 627.1v4.2M139.0 627.1v4.2M140.0 627.1v4.2M141.2 627.1v4.2M142.5 627.1v4.2M144.5 627.1v4.2M146.2 627.1v4.2M148.0 627.1v4.2M150.0 627.1v4.2M153.8 627.1v4.2M157.5 627.1v4.2M162.5 627.4v4.2M167.5 630.4v4.2M168.8 631.1v4.2M172.0 631.1v4.2M182.0 631.1v4.2M185.5 632.4v4.2M188.8 632.4v4.2M193.8 632.4v4.2M196.2 632.4v4.2M200.0 632.4v4.2M203.0 632.4v4.2M206.2 634.9v4.2M211.2 634.9v4.2M215.0 634.9v4.2M216.2 634.9v4.2M223.8 634.9v4.2M229.2 634.9v4.2M230.5 634.9v4.2M235.5 634.9v4.2M237.5 634.9v4.2M242.5 634.9v4.2M247.5 634.9v4.2" fill="none" stroke="#b5202f" stroke-width="1.1"/>
<path d="M60.45 565.95V686.70H251.55" fill="none" stroke="#000" stroke-width="1.2" stroke-linecap="butt" stroke-linejoin="miter"/>
<path d="M57.15 686.70H60.45M57.15 663.51H60.45M57.15 640.32H60.45M57.15 617.13H60.45M57.15 593.94H60.45M57.15 570.75H60.45M60.45 686.70V689.90M79.76 686.70V689.90M99.07 686.70V689.90M118.38 686.70V689.90M137.69 686.70V689.90M157.00 686.70V689.90M176.31 686.70V689.90M195.62 686.70V689.90M214.93 686.70V689.90M234.24 686.70V689.90" fill="none" stroke="#000" stroke-width="0.9" stroke-linecap="butt"/>
<text transform="translate(54.15 689.50) scale(1.0 1)" font-size="8.7" letter-spacing="0.3" text-anchor="end" font-weight="normal">0</text>
<text transform="translate(54.15 666.31) scale(1.0 1)" font-size="8.7" letter-spacing="0.3" text-anchor="end" font-weight="normal">20</text>
<text transform="translate(54.15 643.12) scale(1.0 1)" font-size="8.7" letter-spacing="0.3" text-anchor="end" font-weight="normal">40</text>
<text transform="translate(54.15 619.93) scale(1.0 1)" font-size="8.7" letter-spacing="0.3" text-anchor="end" font-weight="normal">60</text>
<text transform="translate(54.15 596.74) scale(1.0 1)" font-size="8.7" letter-spacing="0.3" text-anchor="end" font-weight="normal">80</text>
<text transform="translate(54.15 573.55) scale(1.0 1)" font-size="8.7" letter-spacing="0.3" text-anchor="end" font-weight="normal">100</text>
<text transform="translate(60.45 700.85) scale(1.0 1)" font-size="8.7" text-anchor="middle" font-weight="normal">0</text>
<text transform="translate(79.76 700.85) scale(1.0 1)" font-size="8.7" text-anchor="middle" font-weight="normal">1</text>
<text transform="translate(99.07 700.85) scale(1.0 1)" font-size="8.7" text-anchor="middle" font-weight="normal">2</text>
<text transform="translate(118.38 700.85) scale(1.0 1)" font-size="8.7" text-anchor="middle" font-weight="normal">3</text>
<text transform="translate(137.69 700.85) scale(1.0 1)" font-size="8.7" text-anchor="middle" font-weight="normal">4</text>
<text transform="translate(157.00 700.85) scale(1.0 1)" font-size="8.7" text-anchor="middle" font-weight="normal">5</text>
<text transform="translate(176.31 700.85) scale(1.0 1)" font-size="8.7" text-anchor="middle" font-weight="normal">6</text>
<text transform="translate(195.62 700.85) scale(1.0 1)" font-size="8.7" text-anchor="middle" font-weight="normal">7</text>
<text transform="translate(214.93 700.85) scale(1.0 1)" font-size="8.7" text-anchor="middle" font-weight="normal">8</text>
<text transform="translate(234.24 700.85) scale(1.0 1)" font-size="8.7" text-anchor="middle" font-weight="normal">9</text>
<text transform="translate(155.65 715.40) scale(0.765 1)" font-size="9.5" class="ti" text-anchor="middle" font-weight="normal">Years since transplant</text>
<text transform="translate(31.65 626.55) rotate(-90) scale(0.774 1)" font-size="9.6" class="ti" text-anchor="middle" font-weight="normal">Probability of overall survival (%)</text>
<text class="pl" transform="translate(9.05 558.95) scale(0.95 1)" font-size="13" text-anchor="start" font-weight="bold">G</text>
<path d="M66.15 673.70h13.1" stroke="#b5202f" stroke-width="1.3"/>
<path d="M66.15 682.00h13.1" stroke="#1d4583" stroke-width="1.3"/>
<text class="lg" x="83.00" y="675.85" font-size="7" textLength="121.3" lengthAdjust="spacingAndGlyphs">Non-permissive HLA-DP mm 0 (N=164)</text>
<text class="lg" x="83.00" y="684.10" font-size="7" textLength="117.3" lengthAdjust="spacingAndGlyphs">Non-permissive HLA-DP mm 1 (N=44)</text>
<text transform="translate(174.85 602.85) scale(1.025 1)" font-size="7" class="lg" text-anchor="start" font-weight="normal">P = 0.029</text>
</g>
</g>
</svg>
</body>
</html>
